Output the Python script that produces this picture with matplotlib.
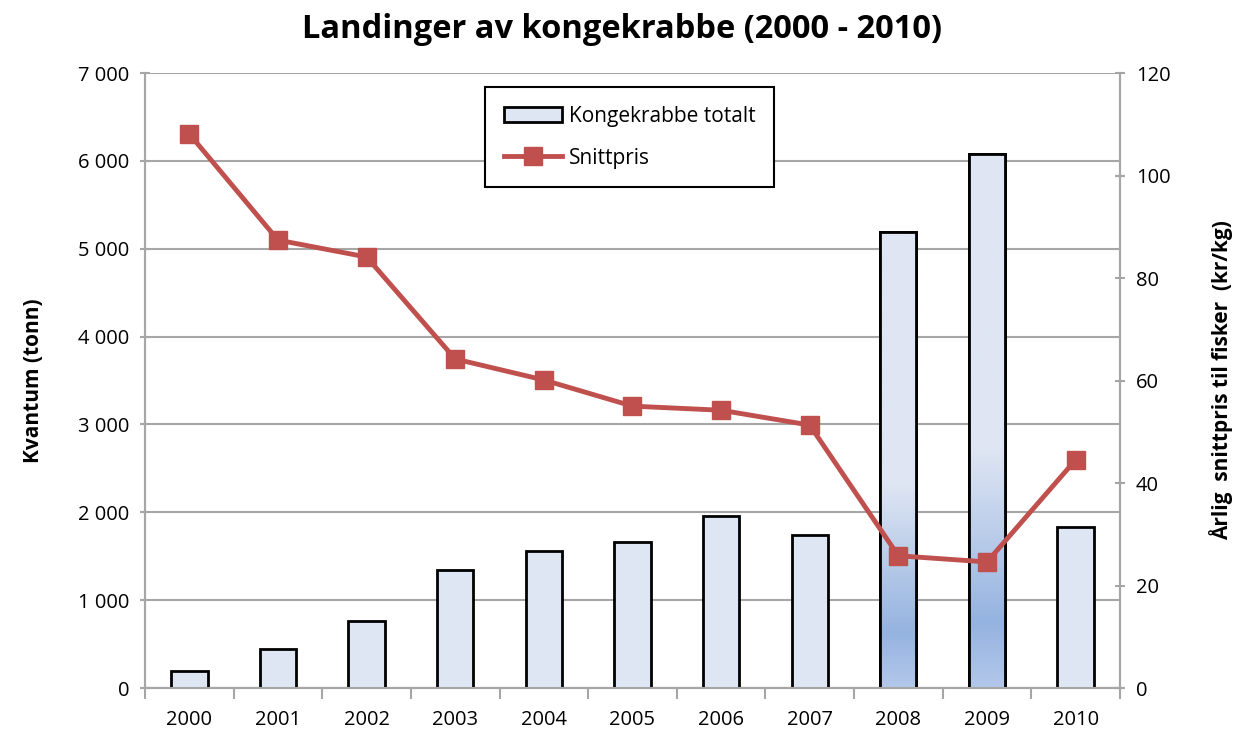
import numpy as np
import matplotlib
matplotlib.use("Agg")
import matplotlib.pyplot as plt
from matplotlib.colors import LinearSegmentedColormap
from matplotlib.ticker import FuncFormatter, FixedLocator

years = ["2000", "2001", "2002", "2003", "2004", "2005",
         "2006", "2007", "2008", "2009", "2010"]
kvantum = [193, 444, 762, 1343, 1559, 1662, 1958, 1741, 5190, 6078, 1832]
snittpris = [108.1, 87.4, 84.1, 64.2, 60.1, 55.0, 54.2, 51.3, 25.8, 24.6, 44.5]
shaded_years = ["2008", "2009"]

BAR_LIGHT = "#dfe6f3"
BAR_DARK = "#95b3e0"
LINE_RED = "#c0504d"
GRID = "#a6a6a6"

plt.rcParams["font.family"] = ["Open Sans", "DejaVu Sans"]

fig = plt.figure(figsize=(12.45, 7.45), dpi=100)
ax = fig.add_axes([0.1165, 0.0765, 0.783, 0.8255])
ax2 = ax.twinx()

x = np.arange(len(years))
bars = ax.bar(x, kvantum, width=0.41, color=BAR_LIGHT, edgecolor="black",
              linewidth=2, zorder=3, label="Kongekrabbe totalt")

# gradient fill on the tall bars
cmap = LinearSegmentedColormap.from_list(
    "grad", [(0.0, "#b3c8ea"), (0.12, BAR_DARK), (0.45, BAR_LIGHT), (1.0, BAR_LIGHT)])
grad = np.linspace(0, 1, 256).reshape(-1, 1)
for yr, b in zip(years, bars):
    if yr in shaded_years:
        bx, bw, bh = b.get_x(), b.get_width(), b.get_height()
        im = ax.imshow(grad, cmap=cmap, origin="lower", aspect="auto",
                       extent=(bx, bx + bw, 0, bh), zorder=3.5)
        im.set_clip_path(b)
        ax.bar(bx + bw / 2, bh, width=bw, facecolor="none", edgecolor="black",
               linewidth=2, zorder=3.6)

ax.set_xlim(-0.5, len(years) - 0.5)
ax.set_ylim(0, 7000)
ax.set_yticks(np.arange(0, 7001, 1000))
ax.yaxis.set_major_formatter(FuncFormatter(lambda v, p: f"{int(v):,}".replace(",", " ")))
ax.grid(axis="y", color=GRID, linewidth=1.5, zorder=0)
ax.set_axisbelow(True)

ax.set_xticks(x)
ax.set_xticklabels(years)
ax.xaxis.set_minor_locator(FixedLocator(np.arange(-0.5, len(years), 1)))
ax.tick_params(axis="x", which="major", length=0, pad=16, labelsize=14.5)
ax.tick_params(axis="x", which="minor", length=8, color=GRID, width=1.5, direction="out")
ax.tick_params(axis="y", length=7, color=GRID, width=1.5, direction="inout", labelsize=14.5, pad=8)

ax2.plot(x, snittpris, color=LINE_RED, linewidth=3.5, marker="s", markersize=13,
         zorder=5, label="Snittpris")
ax2.set_ylim(0, 120)
ax2.set_yticks(np.arange(0, 121, 20))
ax2.tick_params(axis="y", length=7, color=GRID, width=1.5, direction="inout", labelsize=14.5, pad=8)

for a in (ax, ax2):
    a.spines["top"].set_visible(False)
    for s in ("left", "right", "bottom"):
        a.spines[s].set_color(GRID)
        a.spines[s].set_linewidth(1.5)

ax.set_ylabel("Kvantum (tonn)", fontsize=15, fontweight="bold", labelpad=24)
ax2.set_ylabel("Årlig  snittpris til fisker  (kr/kg)", fontsize=15,
               fontweight="bold", labelpad=28)
fig.suptitle("Landinger av kongekrabbe (2000 - 2010)", fontsize=23.5,
             fontweight="bold", y=0.982)

h1, l1 = ax.get_legend_handles_labels()
h2, l2 = ax2.get_legend_handles_labels()
leg = ax2.legend(h1 + h2, l1 + l2, loc="upper center", bbox_to_anchor=(0.497, 0.977),
                 fontsize=15, frameon=True, fancybox=False, edgecolor="black",
                 framealpha=1, borderpad=0.9, labelspacing=1.0, handlelength=2.8,
                 handletextpad=0.3, borderaxespad=0)
leg.get_frame().set_linewidth(1.5)

fig.savefig("out.png", dpi=100)
